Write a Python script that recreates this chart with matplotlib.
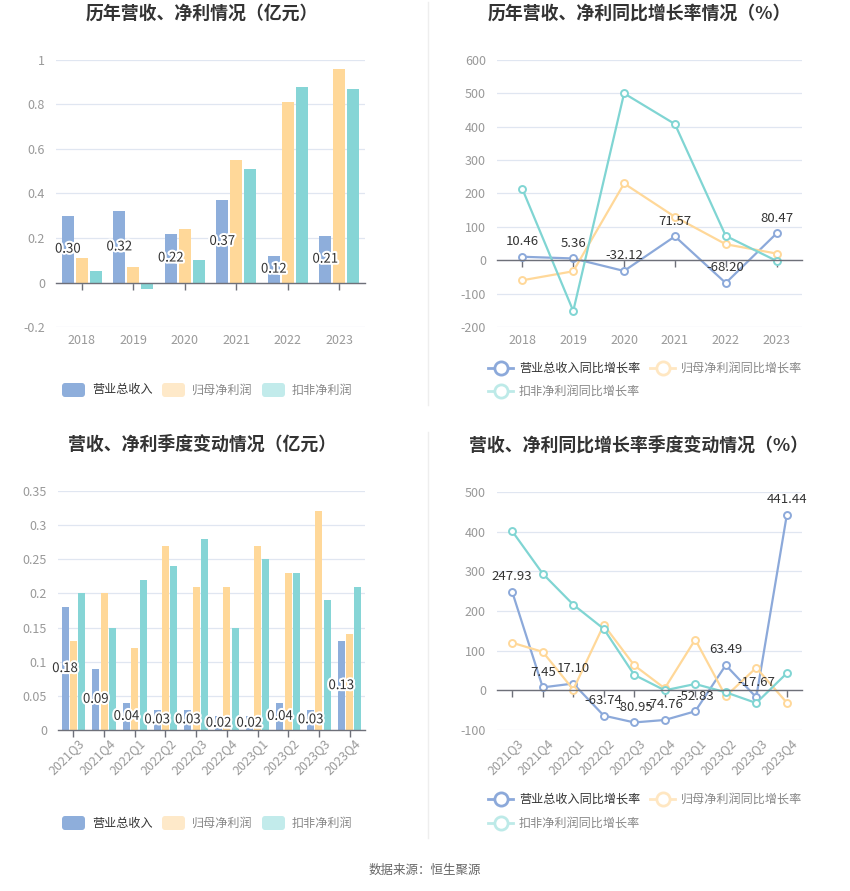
import matplotlib
matplotlib.use('Agg')
import matplotlib.pyplot as plt
import numpy as np
from matplotlib.patches import FancyBboxPatch
from matplotlib.lines import Line2D
import matplotlib.patheffects as pe

plt.rcParams['font.family'] = ['Noto Sans CJK SC', 'DejaVu Sans']

# ---------------- data ----------------
years = ['2018', '2019', '2020', '2021', '2022', '2023']
rev_year = [0.30, 0.32, 0.22, 0.37, 0.12, 0.21]
np_year = [0.11, 0.07, 0.24, 0.55, 0.81, 0.96]
dnp_year = [0.05, -0.03, 0.10, 0.51, 0.88, 0.87]

rev_year_g = [10.46, 5.36, -32.12, 71.57, -68.20, 80.47]
np_year_g = [-60, -33, 230, 130, 48, 20]
dnp_year_g = [213, -152, 500, 408, 73, -2]

quarters = ['2021Q3', '2021Q4', '2022Q1', '2022Q2', '2022Q3', '2022Q4',
            '2023Q1', '2023Q2', '2023Q3', '2023Q4']
rev_q = [0.18, 0.09, 0.04, 0.03, 0.03, 0.02, 0.02, 0.04, 0.03, 0.13]
np_q = [0.13, 0.20, 0.12, 0.27, 0.21, 0.21, 0.27, 0.23, 0.32, 0.14]
dnp_q = [0.20, 0.15, 0.22, 0.24, 0.28, 0.15, 0.25, 0.23, 0.19, 0.21]

rev_q_g = [247.93, 7.45, 17.10, -63.74, -80.95, -74.76, -52.83, 63.49, -17.67, 441.44]
np_q_g = [120, 97, 2, 165, 63, 5, 128, -15, 57, -31]
dnp_q_g = [401, 294, 216, 155, 39, 0, 16, -5, -32, 43]

bar_names = ['营业总收入', '归母净利润', '扣非净利润']
line_names = ['营业总收入同比增长率', '归母净利润同比增长率', '扣非净利润同比增长率']

# ---------------- styles ----------------
BAR_COLORS = ['#8EAEDB', '#FFD899', '#86D5D6']
BAR_LEG_COLORS = ['#8EAEDB', '#FEE9C9', '#C2EBEB']
LINE_COLORS = ['#8CA9DA', '#FFD899', '#80D5D3']
LINE_LEG_COLORS = ['#8CA9DA', '#FFE7C2', '#BDEAE8']
GRID = '#E0E6F1'
AXIS = '#6E7079'
TICK_TXT = '#999999'

W, H = 850, 891
fig = plt.figure(figsize=(8.5, 8.91), dpi=100)


def rect(x0, y0, x1, y1):
    return [x0 / W, 1 - y1 / H, (x1 - x0) / W, (y1 - y0) / H]


def base_axes(ax, n, ylim, yticks, ylabels, cats, rotate):
    ax.set_xlim(-0.5, n - 0.5)
    ax.set_ylim(*ylim)
    ax.set_yticks(yticks)
    ax.set_yticklabels(ylabels)
    for s in ['top', 'right', 'left']:
        ax.spines[s].set_visible(False)
    ax.spines['bottom'].set_position(('data', 0))
    ax.spines['bottom'].set_color(AXIS)
    ax.spines['bottom'].set_linewidth(1)
    ax.spines['bottom'].set_zorder(6)
    ax.tick_params(axis='y', length=0, labelsize=9, labelcolor=TICK_TXT, pad=8)
    ax.set_xticks(np.arange(n))
    ax.tick_params(axis='x', length=5, width=1, color=AXIS, direction='out',
                   labelbottom=False)
    ax.grid(axis='y', color=GRID, lw=0.9, zorder=0)
    ax.set_axisbelow(True)
    for i, c in enumerate(cats):
        if rotate:
            ax.annotate(c, (i, 0), xycoords=('data', 'axes fraction'),
                        xytext=(3, -5), textcoords='offset points',
                        ha='right', va='top', rotation=45, rotation_mode='anchor',
                        fontsize=9, color=TICK_TXT)
        else:
            ax.annotate(c, (i, 0), xycoords=('data', 'axes fraction'),
                        xytext=(0, -5), textcoords='offset points',
                        ha='center', va='top', fontsize=9, color=TICK_TXT)


def bar_chart(ax, cats, series, ylim, yticks, ylabels, rotate):
    n = len(cats)
    x = np.arange(n)
    offs = [-0.27, 0.0, 0.27]
    for i, vals in enumerate(series):
        ax.bar(x + offs[i], vals, width=0.23, color=BAR_COLORS[i], zorder=3)
    for xi, v in zip(x, series[0]):
        ax.text(xi + offs[0], v / 2, f'{v:.2f}', ha='center', va='center',
                fontsize=9.5, color='#333333', zorder=7,
                path_effects=[pe.withStroke(linewidth=3, foreground='white')])
    base_axes(ax, n, ylim, yticks, ylabels, cats, rotate)


def line_chart(ax, cats, series, ylim, yticks, ylabels, rotate):
    n = len(cats)
    x = np.arange(n)
    for i, vals in enumerate(series):
        ax.plot(x, vals, color=LINE_COLORS[i], lw=1.6, marker='o', ms=5,
                mfc='white', mec=LINE_COLORS[i], mew=1.4, zorder=4 + i)
    for xi, v in zip(x, series[0]):
        ax.annotate(f'{v:.2f}', (xi, v), xytext=(0, 11), textcoords='offset points',
                    ha='center', va='center', fontsize=9.5, color='#333333', zorder=10)
    base_axes(ax, n, ylim, yticks, ylabels, cats, rotate)


# ---------------- axes ----------------
ax1 = fig.add_axes(rect(56, 60, 365, 327))
bar_chart(ax1, years, [rev_year, np_year, dnp_year], (-0.2, 1.0),
          [-0.2, 0, 0.2, 0.4, 0.6, 0.8, 1.0],
          ['-0.2', '0', '0.2', '0.4', '0.6', '0.8', '1'], False)

ax2 = fig.add_axes(rect(497, 60, 802, 327))
line_chart(ax2, years, [rev_year_g, np_year_g, dnp_year_g], (-200, 600),
           list(range(-200, 601, 100)), [str(v) for v in range(-200, 601, 100)], False)

ax3 = fig.add_axes(rect(58, 491, 365, 730))
bar_chart(ax3, quarters, [rev_q, np_q, dnp_q], (0, 0.35),
          [0, 0.05, 0.1, 0.15, 0.2, 0.25, 0.3, 0.35],
          ['0', '0.05', '0.1', '0.15', '0.2', '0.25', '0.3', '0.35'], True)

ax4 = fig.add_axes(rect(497, 492, 802, 730))
line_chart(ax4, quarters, [rev_q_g, np_q_g, dnp_q_g], (-100, 500),
           list(range(-100, 501, 100)), [str(v) for v in range(-100, 501, 100)], True)

# ---------------- titles ----------------
tkw = dict(ha='center', va='center', fontsize=12.9, fontweight='bold', color='#333333')
fig.text(202 / W, 1 - 14 / H, '历年营收、净利情况（亿元）', **tkw)
fig.text(639 / W, 1 - 14 / H, '历年营收、净利同比增长率情况（%）', **tkw)
fig.text(202 / W, 1 - 445 / H, '营收、净利季度变动情况（亿元）', **tkw)
fig.text(639 / W, 1 - 445 / H, '营收、净利同比增长率季度变动情况（%）', **tkw)

# ---------------- legends ----------------
def bar_legend(y):
    xs = [62, 162, 262]
    for i, (x, name) in enumerate(zip(xs, bar_names)):
        p = FancyBboxPatch((x / W, 1 - (y + 7) / H), 23 / W, 14 / H,
                           boxstyle='round,pad=0,rounding_size=0.0035',
                           transform=fig.transFigure, facecolor=BAR_LEG_COLORS[i],
                           edgecolor='none')
        fig.add_artist(p)
        fig.text((x + 30) / W, 1 - y / H, name, ha='left', va='center',
                 fontsize=8.7, color='#333333' if i == 0 else '#888888')


def line_legend(y1, y2):
    pos = [(488, y1), (650, y1), (488, y2)]
    for i, ((x, y), name) in enumerate(zip(pos, line_names)):
        ln = Line2D([x / W, (x + 25) / W], [1 - y / H, 1 - y / H],
                    transform=fig.transFigure, color=LINE_LEG_COLORS[i], lw=2)
        fig.add_artist(ln)
        mk = Line2D([(x + 12.5) / W], [1 - y / H], transform=fig.transFigure,
                    marker='o', ms=9.5, mfc='white', mec=LINE_LEG_COLORS[i], mew=2,
                    linestyle='none')
        fig.add_artist(mk)
        fig.text((x + 31) / W, 1 - y / H, name, ha='left', va='center',
                 fontsize=8.7, color='#333333' if i == 0 else '#888888')


bar_legend(390)
bar_legend(823)
line_legend(368, 391)
line_legend(799, 823)

# dividers
fig.add_artist(Line2D([428 / W, 428 / W], [1 - 2 / H, 1 - 405 / H],
                      transform=fig.transFigure, color='#EEEEEE', lw=1))
fig.add_artist(Line2D([428 / W, 428 / W], [1 - 432 / H, 1 - 838 / H],
                      transform=fig.transFigure, color='#EEEEEE', lw=1))

fig.text(425 / W, 1 - 870 / H, '数据来源：恒生聚源', ha='center', va='center',
         fontsize=9, color='#666666')

fig.savefig('out.png', dpi=100, facecolor='white')
